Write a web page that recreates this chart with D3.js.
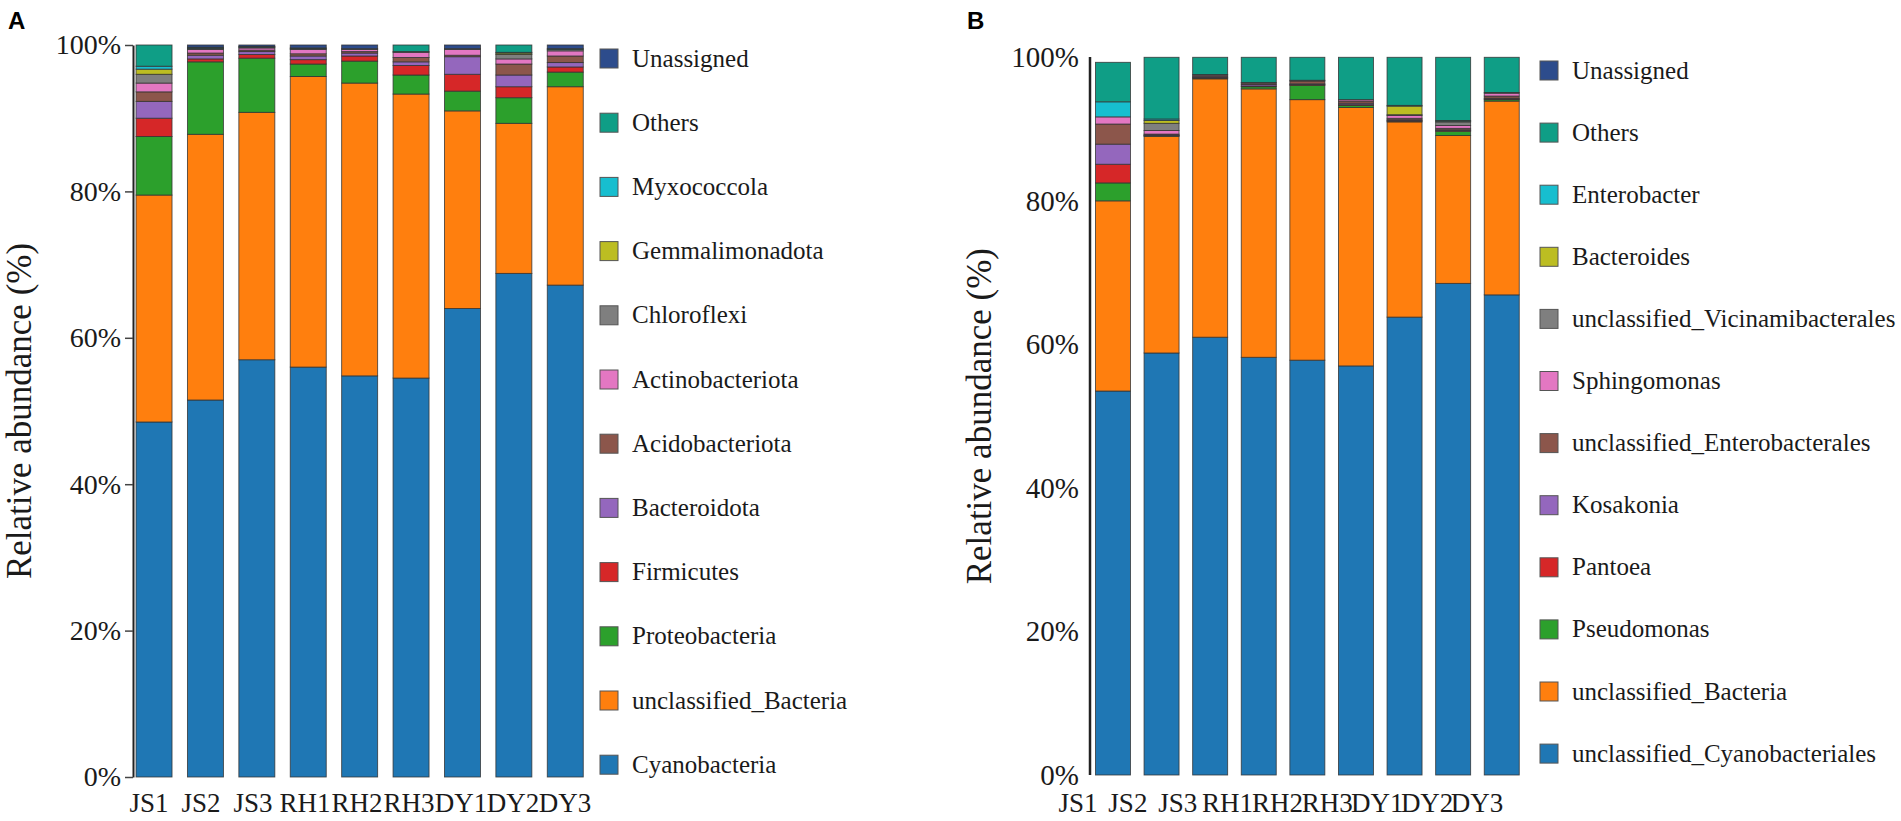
<!DOCTYPE html>
<html>
<head>
<meta charset="utf-8">
<script src="https://cdn.jsdelivr.net/npm/d3@7"></script>
<style>
  html, body { margin: 0; padding: 0; background: #fff; }
  svg { display: block; }
  text { font-family: "Liberation Serif", "Times New Roman", serif; fill: #1a1a1a; }
  text.letter { font-family: "Liberation Sans", Arial, sans-serif; font-weight: bold; fill: #000; }
</style>
</head>
<body>
<svg id="chart" width="1901" height="821"></svg>
<script>
// ---------- shared ----------
const samples = ["JS1", "JS2", "JS3", "RH1", "RH2", "RH3", "DY1", "DY2", "DY3"];
const yTicks = [0, 20, 40, 60, 80, 100];
const palette = ["#1f77b4", "#ff7f0e", "#2ca02c", "#d62728", "#9467bd", "#8c564b",
                 "#e377c2", "#7f7f7f", "#bcbd22", "#17becf", "#0f9e86", "#2d4c8c"];

// ---------- panel A (phylum), bottom -> top ----------
const taxaA = ["Cyanobacteria", "unclassified_Bacteria", "Proteobacteria", "Firmicutes",
               "Bacteroidota", "Acidobacteriota", "Actinobacteriota", "Chloroflexi",
               "Gemmalimonadota", "Myxococcola", "Others", "Unassigned"];
const aCyanobacteria      = [48.5, 51.5, 57.0, 56.0, 54.8, 54.5, 64.0, 68.8, 67.2];
const aUnclBacteria       = [31.0, 36.3, 33.8, 39.7, 40.0, 38.8, 27.0, 20.5, 27.1];
const aProteobacteria     = [8.0, 9.9, 7.4, 1.7, 3.0, 2.6, 2.7, 3.5, 2.0];
const aFirmicutes         = [2.5, 0.4, 0.5, 0.6, 0.7, 1.3, 2.3, 1.5, 0.7];
const aBacteroidota       = [2.3, 0.5, 0.4, 0.5, 0.4, 0.5, 2.4, 1.6, 0.6];
const aAcidobacteriota    = [1.3, 0.3, 0.2, 0.3, 0.2, 0.6, 0.2, 1.5, 0.9];
const aActinobacteriota   = [1.2, 0.5, 0.3, 0.6, 0.3, 0.7, 0.8, 0.7, 0.7];
const aChloroflexi        = [1.2, 0.1, 0.1, 0.1, 0.1, 0.1, 0.1, 0.6, 0.2];
const aGemmalimonadota    = [0.7, 0.05, 0.0, 0.0, 0.0, 0.0, 0.0, 0.2, 0.0];
const aMyxococcola        = [0.4, 0.05, 0.0, 0.0, 0.0, 0.0, 0.0, 0.1, 0.0];
const aOthers             = [2.9, 0.1, 0.1, 0.1, 0.0, 0.9, 0.0, 1.0, 0.1];
const aUnassigned         = [0.0, 0.3, 0.2, 0.4, 0.5, 0.0, 0.5, 0.0, 0.5];
const seriesA = [aCyanobacteria, aUnclBacteria, aProteobacteria, aFirmicutes, aBacteroidota,
                 aAcidobacteriota, aActinobacteriota, aChloroflexi, aGemmalimonadota,
                 aMyxococcola, aOthers, aUnassigned];

// ---------- panel B (genus), bottom -> top ----------
const taxaB = ["unclassified_Cyanobacteriales", "unclassified_Bacteria", "Pseudomonas", "Pantoea",
               "Kosakonia", "unclassified_Enterobacterales", "Sphingomonas",
               "unclassified_Vicinamibacterales", "Bacteroides", "Enterobacter", "Others", "Unassigned"];
const bUnclCyanobacteriales   = [53.5, 58.8, 61.0, 58.2, 57.8, 57.0, 63.8, 68.5, 66.9];
const bUnclBacteria           = [26.5, 30.2, 36.0, 37.4, 36.3, 36.0, 27.2, 20.6, 27.0];
const bPseudomonas            = [2.5, 0.05, 0.1, 0.3, 2.0, 0.3, 0.1, 0.6, 0.2];
const bPantoea                = [2.6, 0.05, 0.1, 0.1, 0.1, 0.1, 0.1, 0.1, 0.1];
const bKosakonia              = [2.8, 0.1, 0.1, 0.2, 0.1, 0.2, 0.1, 0.1, 0.1];
const bUnclEnterobacterales   = [2.8, 0.1, 0.2, 0.2, 0.4, 0.3, 0.2, 0.2, 0.3];
const bSphingomonas           = [1.0, 0.5, 0.1, 0.1, 0.1, 0.2, 0.4, 0.4, 0.4];
const bUnclVicinamibacterales = [0.0, 1.0, 0.0, 0.0, 0.0, 0.0, 0.1, 0.5, 0.1];
const bBacteroides            = [0.0, 0.4, 0.0, 0.0, 0.0, 0.0, 1.2, 0.1, 0.0];
const bEnterobacter           = [2.1, 0.2, 0.0, 0.0, 0.0, 0.0, 0.1, 0.1, 0.0];
const bOthers                 = [5.5, 8.6, 2.4, 3.5, 3.2, 5.9, 6.7, 8.8, 4.9];
const bUnassigned             = [0.0, 0.0, 0.0, 0.0, 0.0, 0.0, 0.0, 0.0, 0.0];
const seriesB = [bUnclCyanobacteriales, bUnclBacteria, bPseudomonas, bPantoea, bKosakonia,
                 bUnclEnterobacterales, bSphingomonas, bUnclVicinamibacterales, bBacteroides,
                 bEnterobacter, bOthers, bUnassigned];

const svg = d3.select("#chart");

function drawPanel(cfg) {
  const g = svg.append("g");
  const rows = samples.map((s, i) => {
    const r = { sample: s };
    cfg.taxa.forEach((t, k) => { r[t] = cfg.series[k][i]; });
    return r;
  });
  const stack = d3.stack().keys(cfg.taxa)(rows);
  const color = d3.scaleOrdinal().domain(cfg.taxa).range(palette);

  const x = d3.scaleBand().domain(samples).range(cfg.xRange)
    .paddingInner(cfg.padIn).paddingOuter(0.1);
  const xl = d3.scalePoint().domain(samples).range(cfg.labelRange);
  const y = d3.scaleLinear().domain([0, 100]).range(cfg.yRange);

  // bars
  g.append("g").selectAll("g").data(stack).join("g")
    .attr("fill", d => color(d.key))
    .selectAll("rect").data(d => d.filter(p => p[1] - p[0] > 0)).join("rect")
    .attr("x", d => x(d.data.sample))
    .attr("width", x.bandwidth())
    .attr("y", d => y(d[1]))
    .attr("height", d => Math.max(0, y(d[0]) - y(d[1])))
    .attr("stroke", "#333")
    .attr("stroke-opacity", 0.85)
    .attr("stroke-width", 0.9);

  // y axis
  const ax = g.append("g")
    .attr("transform", `translate(${cfg.axisX},0)`)
    .call(d3.axisLeft(y).tickValues(yTicks).tickFormat(d => d + "%")
      .tickSize(cfg.tickSize).tickSizeOuter(0).tickPadding(cfg.tickPad));
  ax.select(".domain").attr("stroke", "#222").attr("stroke-width", cfg.axisW);
  if (cfg.axisTop !== undefined) {
    ax.select(".domain").attr("d", `M0,${cfg.axisTop}V${cfg.yRange[0]}`);
  }
  ax.selectAll(".tick line").attr("stroke", "#444").attr("stroke-width", 1.5);
  ax.selectAll(".tick text")
    .attr("font-size", cfg.tickFont).attr("fill", "#1a1a1a");

  // x labels
  g.append("g").selectAll("text").data(samples).join("text")
    .attr("x", d => xl(d)).attr("y", 812)
    .attr("text-anchor", "middle")
    .attr("font-size", 27)
    .text(d => d);

  // y title
  g.append("text")
    .attr("transform", `translate(${cfg.titleX},${(cfg.yRange[0] + cfg.yRange[1]) / 2}) rotate(-90)`)
    .attr("text-anchor", "middle")
    .attr("font-size", 35)
    .text("Relative abundance (%)");

  // panel letter
  g.append("text")
    .attr("class", "letter")
    .attr("x", cfg.letterX).attr("y", 29)
    .attr("font-size", 24)
    .text(cfg.letter);

  // legend (top -> bottom = reversed stack order)
  const legendKeys = cfg.taxa.slice().reverse();
  const lg = g.append("g");
  const items = lg.selectAll("g").data(legendKeys).join("g")
    .attr("transform", (d, i) => `translate(${cfg.legendX},${cfg.legendY + i * cfg.legendStep})`);
  items.append("rect")
    .attr("x", 0).attr("y", -9).attr("width", 18).attr("height", 19)
    .attr("fill", d => color(d))
    .attr("stroke", "#555").attr("stroke-width", 1);
  items.append("text")
    .attr("x", 32).attr("y", 0)
    .attr("dominant-baseline", "central")
    .attr("font-size", 25)
    .text(d => d);
}

drawPanel({
  taxa: taxaA, series: seriesA, letter: "A", letterX: 8,
  xRange: [130.9, 588.4], padIn: 0.30, labelRange: [149, 565],
  yRange: [777, 45], axisX: 133, axisW: 2, tickSize: 8, tickPad: 4, tickFont: 28,
  titleX: 31, legendX: 600, legendY: 58, legendStep: 64.2
});

drawPanel({
  taxa: taxaB, series: seriesB, letter: "B", letterX: 967,
  xRange: [1090.6, 1524.1], padIn: 0.28, labelRange: [1078, 1477],
  yRange: [775, 57.3], axisX: 1090, axisW: 2.5, tickSize: 0, tickPad: 11, tickFont: 29,
  axisTop: 57, titleX: 991, legendX: 1540, legendY: 70, legendStep: 62.1
});
</script>
</body>
</html>
